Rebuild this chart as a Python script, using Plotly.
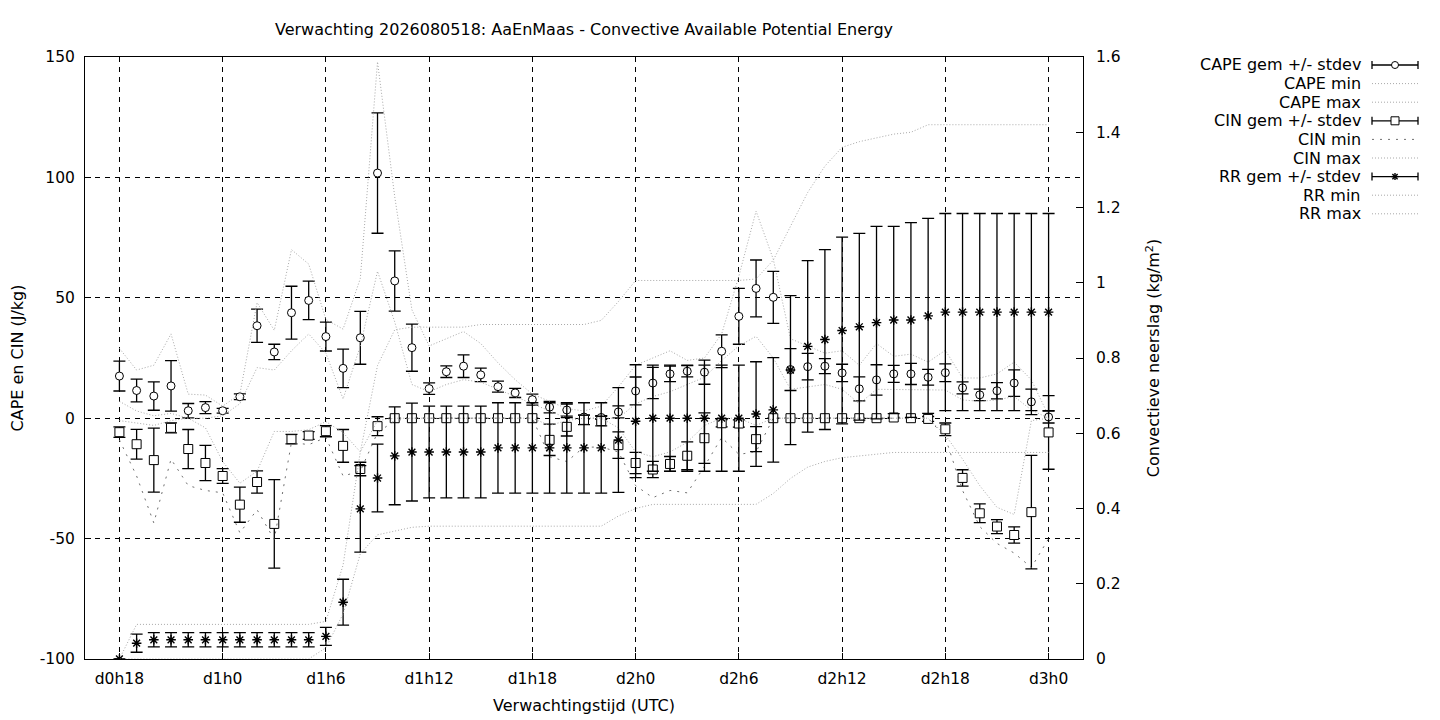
import plotly.graph_objects as go

# uren vanaf d0h0 (18 = d0h18, 72 = d3h0)
uren = list(range(18, 73))

tick_uren = [18, 24, 30, 36, 42, 48, 54, 60, 66, 72]
tick_labels = ['d0h18', 'd1h0', 'd1h6', 'd1h12', 'd1h18', 'd2h0', 'd2h6', 'd2h12', 'd2h18', 'd3h0']
y_ticks = [-100, -50, 0, 50, 100, 150]
y_labels = ['-100', '-50', '0', '50', '100', '150']
y2_ticks = [0, 0.2, 0.4, 0.6, 0.8, 1.0, 1.2, 1.4, 1.6]
y2_labels = ['0', '0.2', '0.4', '0.6', '0.8', '1', '1.2', '1.4', '1.6']

# CAPE (J/kg)
cape_gem = [17.5, 11.5, 9.2, 13.4, 3.1, 4.4, 3.1, 8.9, 38.4, 27.5,
            43.8, 48.9, 33.9, 20.7, 33.4, 101.8, 57.0, 29.3, 12.3, 19.3,
            21.6, 18.0, 13.1, 10.5, 7.7, 4.6, 3.4, 0.5, 0.3, 2.6,
            11.3, 14.6, 18.4, 19.5, 19.1, 27.8, 42.3, 53.9, 50.2, 20.2,
            21.4, 21.6, 18.8, 12.2, 15.9, 18.4, 18.4, 17.0, 18.9, 12.6,
            9.7, 11.4, 14.6, 6.8, 0.5]
cape_sd = [6.2, 4.7, 5.9, 10.5, 3.0, 2.5, 1.0, 1.2, 6.9, 3.2,
           11.0, 8.0, 6.0, 8.0, 11.0, 25.0, 12.5, 9.8, 2.4, 2.4,
           4.7, 2.8, 2.3, 1.9, 2.3, 2.4, 2.5, 0.8, 0.8, 2.5,
           5.8, 6.5, 3.2, 2.3, 5.0, 6.8, 11.6, 11.8, 10.8, 8.7,
           5.5, 3.1, 3.6, 5.0, 6.3, 3.5, 4.4, 3.3, 3.7, 2.5,
           2.4, 3.4, 5.5, 5.3, 2.5]
cape_min = [7, 3, 1, 2, 0, 0, 1, 6, 21, 20,
            28, 35, 27, 8, 30, 61, 40, 14, 11, 14,
            16, 15, 12, 9, 6, 3, 0, 0, 0, 0,
            6, 9, 11, 14, 17, 24, 30, 34, 25, 12,
            13, 14, 12, 6, 12, 12, 12, 12, 11.7, 7.6,
            7, 7.6, 9, 3.4, 0]
cape_max = [29, 20, 22, 35, 10, 9.6, 5, 10, 48, 36.5,
            70, 64, 41, 37, 58, 148, 92, 45, 30, 33,
            36, 31, 23, 16, 10, 7, 4, 3, 5, 13,
            22, 25, 28, 24, 25, 35, 59, 86, 66, 33,
            30, 27, 28, 22, 31, 25.7, 26.6, 23.3, 28.2, 16.7,
            16.7, 18.4, 23.3, 15.9, 1]

# CIN (J/kg)
cin_gem = [-5.8, -10.8, -17.4, -4.0, -12.8, -18.6, -24.0, -35.9, -26.5, -43.9,
           -8.7, -7.2, -5.4, -11.5, -21.1, -3.3, 0, 0, 0, 0,
           0, 0, 0, 0, 0, -9.0, -3.6, -0.7, -1.2, -11.2,
           -18.6, -21.3, -19.0, -15.6, -8.3, -2.1, -2.2, -8.7, 0, 0,
           0, 0, 0, 0, 0, 0.3, 0, -0.3, -4.6, -24.8,
           -39.5, -45.0, -48.5, -39.0, -5.9]
cin_sd = [2.2, 6.2, 13.3, 2.1, 8.1, 7.3, 3.1, 7.3, 4.6, 18.4,
          2.0, 1.6, 2.3, 6.8, 2.8, 3.9, 0, 0, 0, 0,
          0, 0, 0, 0, 0, 6.5, 3.8, 2.0, 2.0, 5.5,
          4.4, 3.4, 3.1, 5.8, 10.5, 1.5, 1.5, 5.2, 0, 0,
          0, 0, 0, 0, 0, 0, 0, 1.0, 2.6, 3.4,
          3.9, 2.9, 3.4, 23.6, 15.3]
cin_min = [-9, -24, -43.5, -17, -28, -30, -31, -47.6, -38, -50.4,
           -10, -11, -8, -24, -22, -6, -1, 0, 0, 0,
           0, 0, 0, 0, 0, -16, -18, -12, -12, -14,
           -28, -33, -30, -31, -20, -8, -15, -14, 0, 0,
           0, 0, 0, 0, 0, 0, 0, 0, -8, -30,
           -45, -52, -56, -62, -50]
cin_max = [-1, -2, -3, -1, 0, -4, -18, -27, -22, -5.5,
           -5.5, -4.8, -1.4, -6, -14, -1, 0, 0, 0, 0,
           0, 0, 0, 0, 0, -3, -1, 0, 0, -4,
           -14, -16, -14, -10, -3, 0, 0, -3, 0, 0,
           0, 0, 0, 0, 0, 0, 0, 0, -7, -17,
           -28, -37, -40, -1, 0]

# convectieve neerslag (kg/m2)
rr_gem = [0.0, 0.042, 0.051, 0.051, 0.051, 0.051, 0.051, 0.051, 0.051, 0.051,
          0.051, 0.051, 0.060, 0.151, 0.399, 0.481, 0.540, 0.550, 0.550, 0.550,
          0.550, 0.550, 0.561, 0.561, 0.561, 0.561, 0.561, 0.561, 0.561, 0.582,
          0.632, 0.640, 0.640, 0.640, 0.640, 0.640, 0.640, 0.651, 0.662, 0.768,
          0.831, 0.849, 0.873, 0.883, 0.894, 0.901, 0.901, 0.912, 0.922, 0.922,
          0.922, 0.922, 0.922, 0.922, 0.922]
rr_sd = [0.0, 0.024, 0.019, 0.019, 0.019, 0.019, 0.019, 0.019, 0.019, 0.019,
         0.019, 0.019, 0.024, 0.061, 0.115, 0.090, 0.130, 0.130, 0.122, 0.122,
         0.122, 0.122, 0.120, 0.120, 0.120, 0.120, 0.120, 0.120, 0.120, 0.139,
         0.150, 0.141, 0.141, 0.141, 0.141, 0.141, 0.141, 0.139, 0.139, 0.198,
         0.228, 0.239, 0.248, 0.248, 0.256, 0.249, 0.259, 0.259, 0.262, 0.262,
         0.262, 0.262, 0.262, 0.262, 0.262]
rr_min = [0, 0, 0, 0, 0, 0, 0, 0, 0, 0,
          0, 0, 0.03, 0.12, 0.28, 0.33, 0.34, 0.35, 0.353, 0.353,
          0.353, 0.353, 0.353, 0.353, 0.353, 0.353, 0.353, 0.353, 0.353, 0.38,
          0.40, 0.411, 0.411, 0.411, 0.411, 0.411, 0.411, 0.411, 0.44, 0.48,
          0.51, 0.525, 0.535, 0.54, 0.545, 0.549, 0.549, 0.549, 0.549, 0.549,
          0.549, 0.549, 0.549, 0.549, 0.549]
rr_max = [0.0, 0.092, 0.092, 0.092, 0.092, 0.092, 0.092, 0.092, 0.092, 0.092,
          0.092, 0.092, 0.10, 0.25, 0.55, 0.78, 0.875, 0.882, 0.882, 0.882,
          0.882, 0.889, 0.889, 0.889, 0.889, 0.889, 0.889, 0.889, 0.90, 0.95,
          1.006, 1.006, 1.006, 1.006, 1.006, 1.006, 1.006, 1.01, 1.06, 1.15,
          1.24, 1.31, 1.36, 1.375, 1.385, 1.395, 1.40, 1.42, 1.42, 1.42,
          1.42, 1.42, 1.42, 1.42, 1.42]

FONT = 'DejaVu Sans'
GRIJS = '#a8a8a8'
DONKER = '#707070'
STIP = '1px,2px'
STIP_GROF = '2px,6px'
W, H = 1440, 720


def gem_trace(y, sd, symbool, grootte, kleur='white', as_y='y', lw=1):
    return go.Scatter(x=uren, y=y, mode='markers', yaxis=as_y, showlegend=False,
                      marker=dict(symbol=symbool, size=grootte, color=kleur,
                                  line=dict(color='black', width=lw)),
                      error_y=dict(type='data', array=sd, color='black',
                                   thickness=1.3, width=6))


def lijn_trace(y, kleur, dash, as_y='y'):
    return go.Scatter(x=uren, y=y, mode='lines', yaxis=as_y, showlegend=False,
                      line=dict(color=kleur, width=1, dash=dash))


fig = go.Figure()
fig.add_trace(gem_trace(cape_gem, cape_sd, 'circle', 8))
fig.add_trace(lijn_trace(cape_min, GRIJS, STIP))
fig.add_trace(lijn_trace(cape_max, GRIJS, STIP))
fig.add_trace(gem_trace(cin_gem, cin_sd, 'square', 9))
fig.add_trace(lijn_trace(cin_min, DONKER, STIP_GROF))
fig.add_trace(lijn_trace(cin_max, GRIJS, STIP))
fig.add_trace(gem_trace(rr_gem, rr_sd, 'asterisk-open', 8, 'black', 'y2', 1.4))
fig.add_trace(lijn_trace(rr_min, GRIJS, STIP, 'y2'))
fig.add_trace(lijn_trace(rr_max, GRIJS, STIP, 'y2'))

# plotgebied in pixels: links 85, rechts 1083, boven 57, onder 659
L, R, T, B = 85, 1083, 57, 659


def px(x):
    return (x - L) / (R - L)


def py(y):
    return (B - y) / (B - T)


# eigen legenda rechts naast de grafiek (gnuplot stijl)
legenda = [('CAPE gem +/- stdev', 'circle'), ('CAPE min', 'dot'), ('CAPE max', 'dot'),
           ('CIN gem +/- stdev', 'square'), ('CIN min', 'grof'), ('CIN max', 'dot'),
           ('RR gem +/- stdev', 'star'), ('RR min', 'dot'), ('RR max', 'dot')]
shapes = []
annotations = []
for i, (tekst, soort) in enumerate(legenda):
    yy = 65 + i * 18.6
    annotations.append(dict(text=tekst, xref='paper', yref='paper', x=px(1363), y=py(yy),
                            xanchor='right', yanchor='middle', showarrow=False,
                            font=dict(family=FONT, size=16, color='black')))
    if soort in ('dot', 'grof'):
        shapes.append(dict(type='line', xref='paper', yref='paper', x0=px(1372), x1=px(1418),
                           y0=py(yy), y1=py(yy),
                           line=dict(color=DONKER if soort == 'grof' else GRIJS, width=1,
                                     dash=STIP_GROF if soort == 'grof' else STIP)))
        continue
    zwart = dict(color='black', width=1.3)
    shapes.append(dict(type='line', xref='paper', yref='paper', x0=px(1372), x1=px(1418),
                       y0=py(yy), y1=py(yy), line=zwart))
    for xc in (1372, 1418):
        shapes.append(dict(type='line', xref='paper', yref='paper', x0=px(xc), x1=px(xc),
                           y0=py(yy - 4), y1=py(yy + 4), line=zwart))
    if soort == 'circle':
        shapes.append(dict(type='circle', xref='paper', yref='paper', x0=px(1391.5), x1=px(1398.5),
                           y0=py(yy + 3.5), y1=py(yy - 3.5), fillcolor='white',
                           line=dict(color='black', width=1)))
    elif soort == 'square':
        shapes.append(dict(type='rect', xref='paper', yref='paper', x0=px(1391), x1=px(1399),
                           y0=py(yy + 4), y1=py(yy - 4), fillcolor='white',
                           line=dict(color='black', width=1)))
    else:
        dun = dict(color='black', width=1.4)
        for dx, dy in ((3.5, 0), (0, 3.5), (2.6, 2.6), (2.6, -2.6)):
            shapes.append(dict(type='line', xref='paper', yref='paper', x0=px(1395 - dx), x1=px(1395 + dx),
                               y0=py(yy - dy), y1=py(yy + dy), line=dun))

fig.update_layout(
    width=W, height=H,
    title=dict(text='Verwachting 2026080518: AaEnMaas - Convective Available Potential Energy',
               x=px(584), xref='paper', xanchor='center', y=1 - 29 / H, yref='container',
               yanchor='middle', font=dict(family=FONT, size=16, color='black')),
    font=dict(family=FONT, size=15.5, color='black'),
    paper_bgcolor='white', plot_bgcolor='white',
    margin=dict(l=L, r=W - R, t=T, b=H - B, autoexpand=False),
    showlegend=False,
    xaxis=dict(range=[16, 74], tickvals=tick_uren, ticktext=tick_labels, automargin=False,
               showline=True, linecolor='black', linewidth=1, mirror=True,
               ticks='inside', ticklen=6, tickcolor='black', ticklabelstandoff=5,
               showgrid=True, gridcolor='black', gridwidth=1, griddash='5px,5px',
               zeroline=False,
               title=dict(text='Verwachtingstijd (UTC)', standoff=13,
                          font=dict(family=FONT, size=16))),
    yaxis=dict(range=[-100, 150], tickvals=y_ticks, ticktext=y_labels, automargin=False,
               showline=True, linecolor='black', linewidth=1, mirror=True,
               ticks='inside', ticklen=6, tickcolor='black', ticklabelstandoff=6,
               showgrid=True, gridcolor='black', gridwidth=1, griddash='5px,5px',
               zeroline=False,
               title=dict(text='CAPE en CIN (J/kg)', standoff=12,
                          font=dict(family=FONT, size=16))),
    yaxis2=dict(range=[0, 1.6], tickvals=y2_ticks, ticktext=y2_labels, overlaying='y', side='right',
                automargin=False,
                showline=False, ticks='inside', ticklen=7, tickcolor='black', ticklabelstandoff=12,
                showgrid=False, zeroline=False,
                title=dict(text='Convectieve neerslag (kg/m<sup>2</sup>)', standoff=28,
                           font=dict(family=FONT, size=16))),
    shapes=shapes,
    annotations=annotations,
)

fig.write_html('out.html', config={'displayModeBar': False},
               post_script="document.body.style.margin='0';document.body.style.overflow='hidden';")
